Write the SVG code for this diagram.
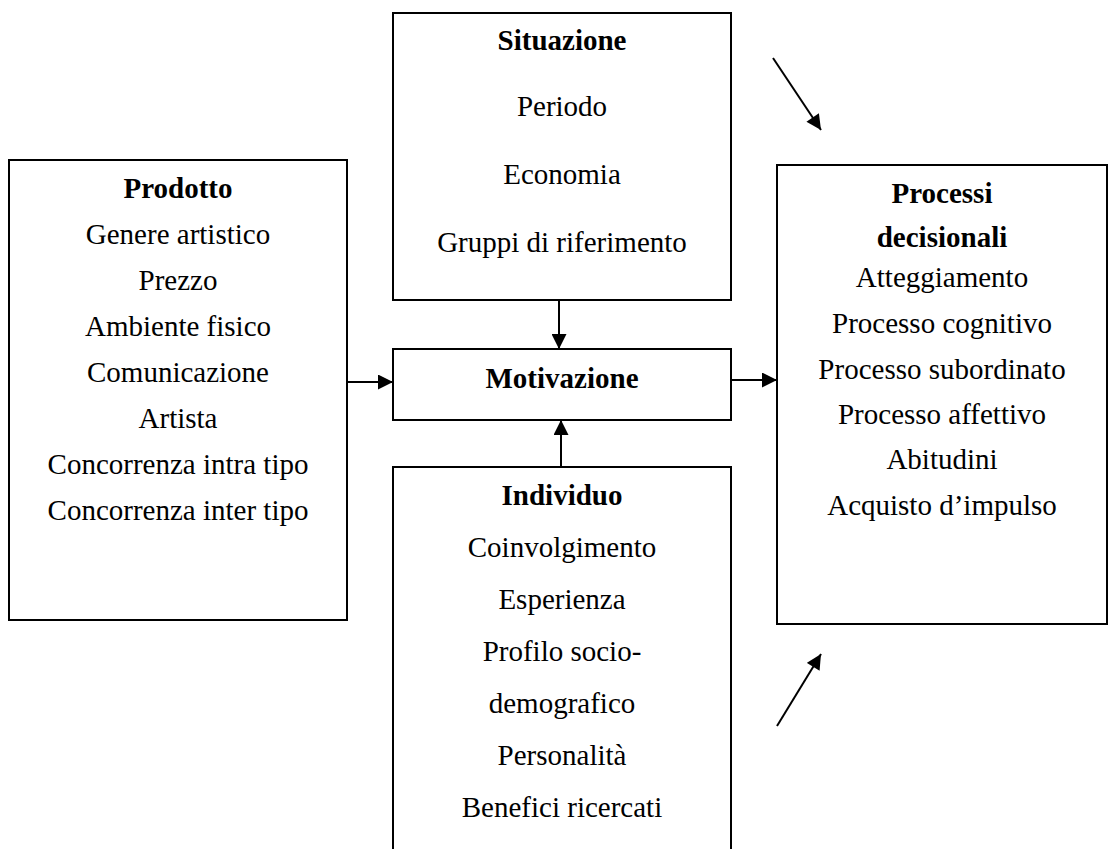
<svg xmlns="http://www.w3.org/2000/svg" width="1108" height="849" viewBox="0 0 1108 849">
  <style>
    .box { fill: #ffffff; stroke: #000000; stroke-width: 2; }
    .t { font-family: "Liberation Serif", "Times New Roman", serif; font-size: 29px; fill: #000000; text-anchor: middle; }
    .b { font-weight: bold; }
    .link { stroke: #000000; stroke-width: 2; fill: none; marker-end: url(#head); }
  </style>
  <defs>
    <marker id="head" viewBox="0 0 10 10" refX="10" refY="5" markerWidth="16" markerHeight="15" markerUnits="userSpaceOnUse" orient="auto">
      <path d="M0,0 L10,5 L0,10 z" fill="#000000"/>
    </marker>
  </defs>
  <rect width="1108" height="849" fill="#ffffff"/>

  <g id="prodotto">
    <rect class="box" x="9" y="160" width="338" height="460"/>
    <text class="t b" x="178" y="198">Prodotto</text>
    <text class="t" x="178" y="244">Genere artistico</text>
    <text class="t" x="178" y="290">Prezzo</text>
    <text class="t" x="178" y="336">Ambiente fisico</text>
    <text class="t" x="178" y="382">Comunicazione</text>
    <text class="t" x="178" y="428">Artista</text>
    <text class="t" x="178" y="474">Concorrenza intra tipo</text>
    <text class="t" x="178" y="520">Concorrenza inter tipo</text>
  </g>

  <g id="situazione">
    <rect class="box" x="393" y="13" width="338" height="287"/>
    <text class="t b" x="562" y="50">Situazione</text>
    <text class="t" x="562" y="116">Periodo</text>
    <text class="t" x="562" y="184">Economia</text>
    <text class="t" x="562" y="252">Gruppi di riferimento</text>
  </g>

  <g id="motivazione">
    <rect class="box" x="393" y="349" width="338" height="71"/>
    <text class="t b" x="562" y="388">Motivazione</text>
  </g>

  <g id="individuo">
    <rect class="box" x="393" y="467" width="338" height="400"/>
    <text class="t b" x="562" y="505">Individuo</text>
    <text class="t" x="562" y="557">Coinvolgimento</text>
    <text class="t" x="562" y="609">Esperienza</text>
    <text class="t" x="562" y="661">Profilo socio-</text>
    <text class="t" x="562" y="713">demografico</text>
    <text class="t" x="562" y="765">Personalità</text>
    <text class="t" x="562" y="817">Benefici ricercati</text>
  </g>

  <g id="processi">
    <rect class="box" x="777" y="165" width="330" height="459"/>
    <text class="t b" x="942" y="203">Processi</text>
    <text class="t b" x="942" y="247">decisionali</text>
    <text class="t" x="942" y="287">Atteggiamento</text>
    <text class="t" x="942" y="333">Processo cognitivo</text>
    <text class="t" x="942" y="379">Processo subordinato</text>
    <text class="t" x="942" y="424">Processo affettivo</text>
    <text class="t" x="942" y="469">Abitudini</text>
    <text class="t" x="942" y="515">Acquisto d’impulso</text>
  </g>

  <g id="connectors">
    <line class="link" x1="347" y1="382" x2="393" y2="382"/>
    <line class="link" x1="731" y1="380" x2="777" y2="380"/>
    <line class="link" x1="559" y1="300" x2="559" y2="349"/>
    <line class="link" x1="561" y1="467" x2="561" y2="420"/>
    <line class="link" x1="773" y1="58" x2="821" y2="130"/>
    <line class="link" x1="777" y1="726" x2="821" y2="654"/>
  </g>
</svg>
